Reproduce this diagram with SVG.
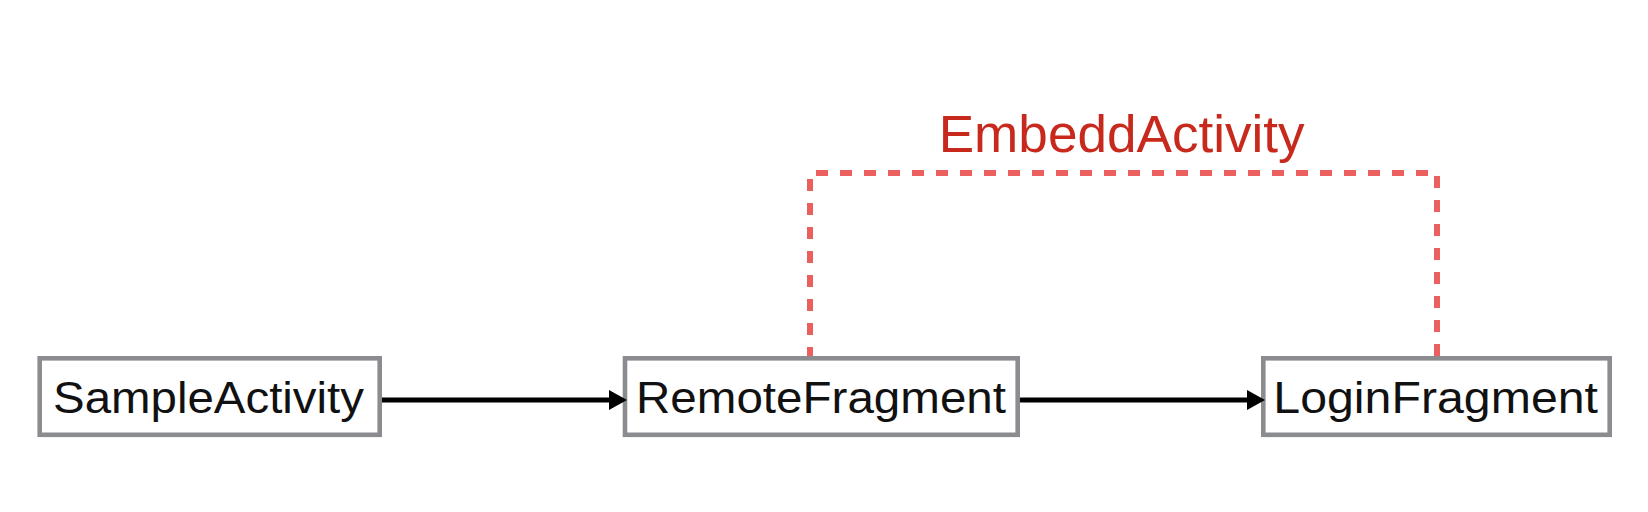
<svg xmlns="http://www.w3.org/2000/svg" width="1648" height="512" viewBox="0 0 1648 512">
  <style>
    .box { fill: #ffffff; stroke: #8a8c8f; stroke-width: 4.6; }
    .label { font-family: "Liberation Sans", Arial, Helvetica, sans-serif; font-size: 45px; fill: #111111; }
    .title { font-family: "Liberation Sans", Arial, Helvetica, sans-serif; font-size: 51px; fill: #c8291d; }
    .arrow { stroke: #000000; stroke-width: 4.8; fill: none; }
    .dashed { stroke: #ec5f5f; stroke-width: 6; fill: none; stroke-dasharray: 12 12; stroke-dashoffset: 3; }
  </style>
  <defs>
    <marker id="head" markerUnits="userSpaceOnUse" viewBox="0 0 18 20" refX="6" refY="10" markerWidth="18" markerHeight="20" orient="auto">
      <path d="M0,0 L18,10 L0,20 Z" fill="#000000"/>
    </marker>
  </defs>
  <rect width="1648" height="512" fill="#ffffff"/>

  <g id="label-embedd">
    <text class="title" x="938.7" y="151.7" textLength="366" lengthAdjust="spacingAndGlyphs">EmbeddActivity</text>
  </g>

  <g id="node-sample">
    <rect class="box" x="39.7" y="358.3" width="340" height="76.5"/>
    <text class="label" x="53" y="413" textLength="311" lengthAdjust="spacingAndGlyphs">SampleActivity</text>
  </g>
  <g id="node-remote">
    <rect class="box" x="625" y="358.3" width="392.7" height="76.5"/>
    <text class="label" x="636" y="413" textLength="370" lengthAdjust="spacingAndGlyphs">RemoteFragment</text>
  </g>
  <g id="node-login">
    <rect class="box" x="1263.3" y="358.3" width="346.4" height="76.5"/>
    <text class="label" x="1273.3" y="413" textLength="324.7" lengthAdjust="spacingAndGlyphs">LoginFragment</text>
  </g>

  <g id="connectors">
    <path class="dashed" d="M810,356 V173 H1437 V356"/>
    <line class="arrow" x1="382" y1="400" x2="615" y2="400" marker-end="url(#head)"/>
    <line class="arrow" x1="1020" y1="400" x2="1253" y2="400" marker-end="url(#head)"/>
  </g>
</svg>
